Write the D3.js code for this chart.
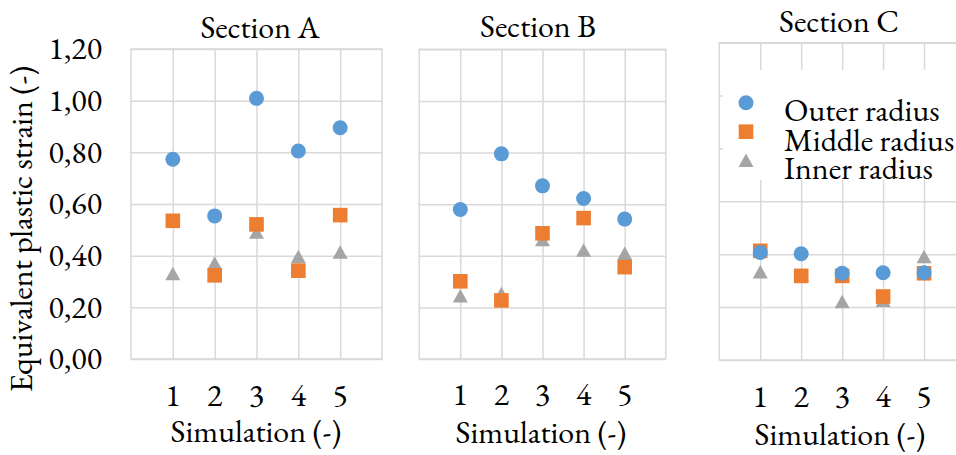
<!DOCTYPE html>
<html>
<head>
<meta charset="utf-8">
<script src="https://cdn.jsdelivr.net/npm/d3@7"></script>
<style>
  body { margin: 0; background: #fff; }
  svg { display: block; }
</style>
</head>
<body>
<div id="chart"></div>
<script>
// values
const simulations = [1, 2, 3, 4, 5];
const yTicks = [0, 0.2, 0.4, 0.6, 0.8, 1.0, 1.2];
const sectionNames = ["Section A", "Section B", "Section C"];
const seriesNames = ["Outer radius", "Middle radius", "Inner radius"];

const outerA  = [0.773, 0.554, 1.009, 0.805, 0.895];
const middleA = [0.535, 0.324, 0.521, 0.342, 0.557];
const innerA  = [0.330, 0.370, 0.490, 0.396, 0.413];

const outerB  = [0.579, 0.795, 0.671, 0.622, 0.542];
const middleB = [0.301, 0.227, 0.487, 0.546, 0.356];
const innerB  = [0.244, 0.253, 0.462, 0.421, 0.409];

const outerC  = [0.407, 0.402, 0.328, 0.330, 0.330];
const middleC = [0.413, 0.318, 0.318, 0.240, 0.328];
const innerC  = [0.333, 0.320, 0.220, 0.225, 0.390];

const colors = { outer: "#5b9bd5", middle: "#ed7d31", inner: "#a5a5a5" };
const gridColor = "#d9d9d9";
const fontFamily = "'EB Garamond', 'Liberation Serif', serif";

const W = 956, H = 455;

// panel geometry (pixels)
const panels = [
  { name: sectionNames[0], left: 131, right: 382, top: 49, bottom: 359,
    titleX: 260, titleY: 38, tickY: 406, labelY: 442, labelX: 256, yLabels: true,
    outer: outerA, middle: middleA, inner: innerA },
  { name: sectionNames[1], left: 419.2, right: 665.8, top: 49.3, bottom: 359,
    titleX: 538, titleY: 37, tickY: 405, labelY: 443, labelX: 541, yLabels: false,
    outer: outerB, middle: middleB, inner: innerB },
  { name: sectionNames[2], left: 719.3, right: 965, top: 42.7, bottom: 360,
    titleX: 839, titleY: 32, tickY: 407, labelY: 445, labelX: 840, yLabels: false,
    outer: outerC, middle: middleC, inner: innerC, legend: true }
];

const locale = d3.formatLocale({ decimal: ",", thousands: ".", grouping: [3], currency: ["", ""] });
const fmt = locale.format(".2f");

const svg = d3.select("#chart").append("svg")
  .attr("width", W)
  .attr("height", H)
  .attr("font-family", fontFamily)
  .attr("font-size", 32);

// triangle marker, centred on its box
function trianglePath(s) {
  const p = d3.path();
  p.moveTo(0, -s * 0.47);
  p.lineTo(s / 2, s * 0.43);
  p.lineTo(-s / 2, s * 0.43);
  p.closePath();
  return p.toString();
}

panels.forEach(function(pn) {
  const x = d3.scaleLinear().domain([0, 6]).range([pn.left, pn.right]);
  const y = d3.scaleLinear().domain([0, 1.2]).range([pn.bottom, pn.top]);
  const g = svg.append("g");

  // horizontal gridlines
  g.append("g")
    .attr("transform", `translate(${pn.left},0)`)
    .call(d3.axisLeft(y).tickValues(yTicks).tickSize(-(pn.right - pn.left)).tickFormat(""))
    .call(a => a.select(".domain").remove())
    .selectAll("line").attr("stroke", gridColor).attr("stroke-width", 1.5);

  // vertical gridlines
  g.append("g")
    .attr("transform", `translate(0,${pn.bottom})`)
    .call(d3.axisBottom(x).tickValues(simulations).tickSize(-(pn.bottom - pn.top)).tickFormat(""))
    .call(a => a.select(".domain").remove())
    .selectAll("line").attr("stroke", gridColor).attr("stroke-width", 1.5);

  // plot border
  g.append("rect")
    .attr("x", pn.left).attr("y", pn.top)
    .attr("width", pn.right - pn.left).attr("height", pn.bottom - pn.top)
    .attr("fill", "none").attr("stroke", gridColor).attr("stroke-width", 1.5);

  // legend box covers the grid in section C
  if (pn.legend) {
    g.append("rect")
      .attr("x", 723).attr("y", 70)
      .attr("width", W - 723).attr("height", 110)
      .attr("fill", "#fff");
  }

  // x tick labels
  g.selectAll(".xt")
    .data(simulations)
    .enter().append("text")
    .attr("x", d => x(d))
    .attr("y", pn.tickY)
    .attr("text-anchor", "middle")
    .text(d => d);

  // y tick labels
  if (pn.yLabels) {
    g.selectAll(".yt")
      .data(yTicks)
      .enter().append("text")
      .attr("x", 102)
      .attr("y", d => y(d))
      .attr("dy", "0.32em")
      .attr("text-anchor", "end")
      .text(d => fmt(d));
  }

  // title and axis label
  g.append("text")
    .attr("x", pn.titleX).attr("y", pn.titleY)
    .attr("text-anchor", "middle")
    .text(pn.name);

  g.append("text")
    .attr("x", pn.labelX).attr("y", pn.labelY)
    .attr("text-anchor", "middle")
    .text("Simulation (-)");

  // markers: inner first, outer on top
  g.selectAll(".inner")
    .data(pn.inner)
    .enter().append("path")
    .attr("d", trianglePath(15))
    .attr("transform", (d, i) => `translate(${x(simulations[i])},${y(d)})`)
    .attr("fill", colors.inner);

  g.selectAll(".middle")
    .data(pn.middle)
    .enter().append("rect")
    .attr("x", (d, i) => x(simulations[i]) - 7.3)
    .attr("y", d => y(d) - 7.3)
    .attr("width", 14.6).attr("height", 14.6)
    .attr("fill", colors.middle);

  g.selectAll(".outer")
    .data(pn.outer)
    .enter().append("circle")
    .attr("cx", (d, i) => x(simulations[i]))
    .attr("cy", d => y(d))
    .attr("r", 7.5)
    .attr("fill", colors.outer);

  if (pn.legend) {
    const lg = g.append("g");
    const rowY = [102.7, 131.7, 160.5];
    const textY = [121, 150.7, 179.3];
    lg.append("circle").attr("cx", 746).attr("cy", rowY[0]).attr("r", 7.5).attr("fill", colors.outer);
    lg.append("rect").attr("x", 746 - 7.3).attr("y", rowY[1] - 7.3)
      .attr("width", 14.6).attr("height", 14.6).attr("fill", colors.middle);
    lg.append("path").attr("d", trianglePath(15))
      .attr("transform", `translate(746,${rowY[2]})`).attr("fill", colors.inner);
    lg.selectAll("text")
      .data(seriesNames)
      .enter().append("text")
      .attr("x", 784)
      .attr("y", (d, i) => textY[i])
      .attr("font-size", 32)
      .text(d => d);
  }
});

// y axis title
svg.append("text")
  .attr("transform", "translate(32,229) rotate(-90)")
  .attr("text-anchor", "middle")
  .text("Equivalent plastic strain (-)");
</script>
</body>
</html>
